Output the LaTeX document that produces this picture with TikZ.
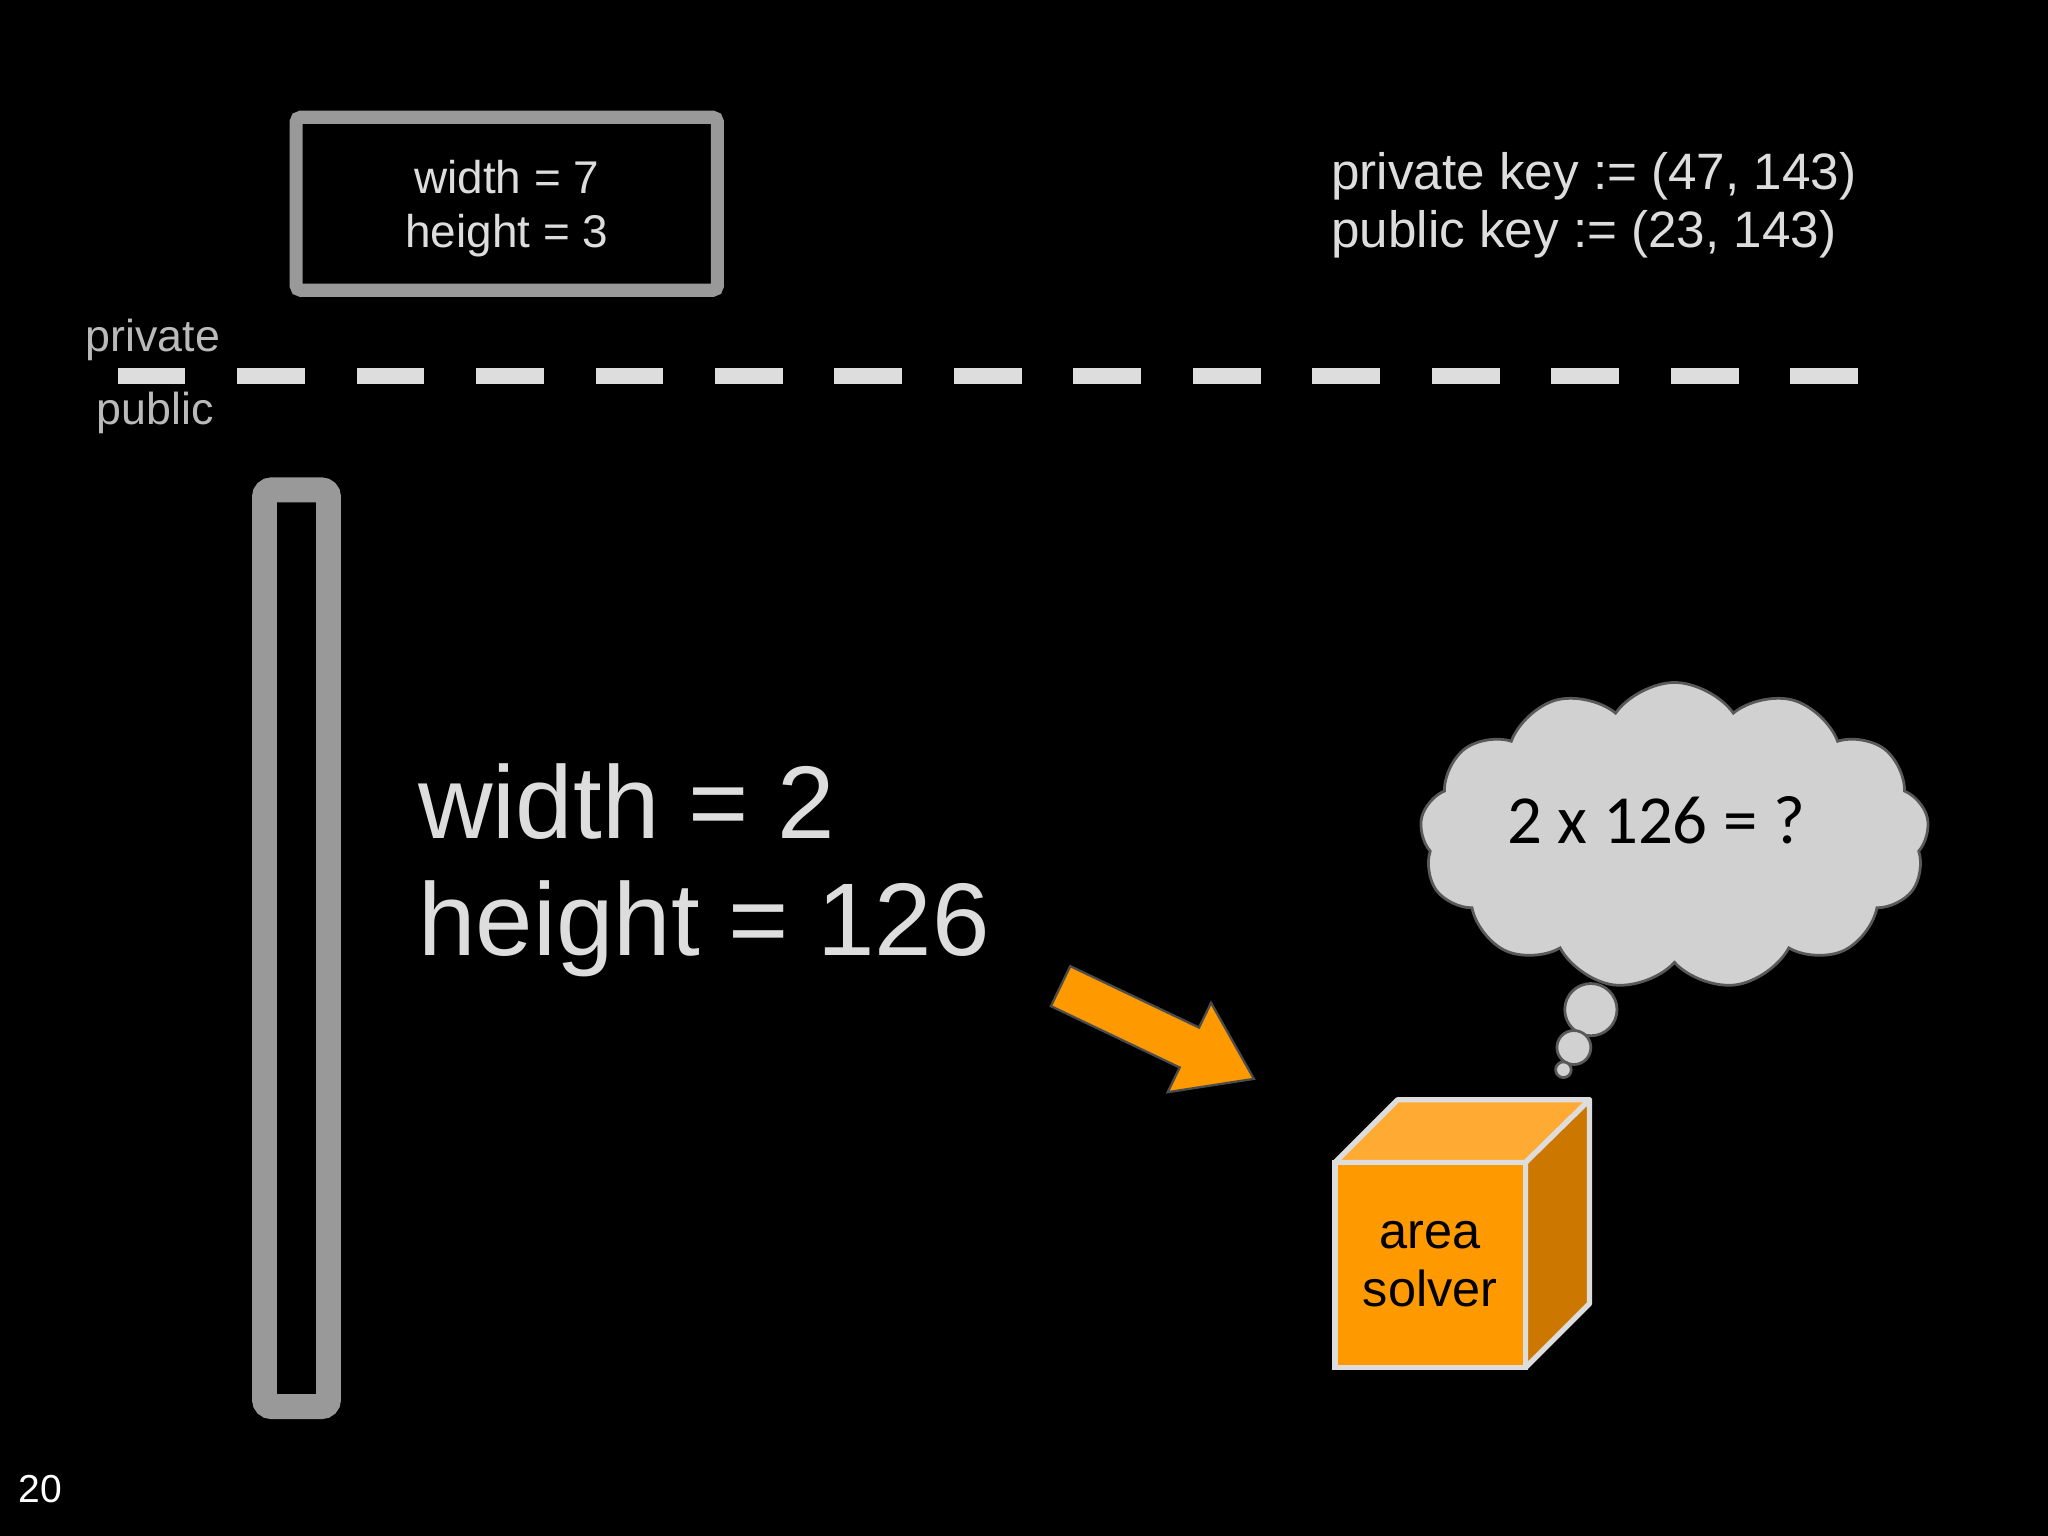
\documentclass[tikz,border=0pt]{standalone}
\usepackage{fontspec}
\setmainfont{Liberation Sans}
\newfontfamily\carl{Carlito}
\usetikzlibrary{shapes.symbols}
\definecolor{txt}{HTML}{DDDDDD}
\definecolor{frame}{HTML}{999999}
\definecolor{org}{HTML}{FF9900}
\definecolor{orgl}{HTML}{FFAA33}
\definecolor{orgd}{HTML}{CC7700}
\tikzset{lbl/.style={text=txt,align=center,inner sep=0pt}}
\begin{document}
\begin{tikzpicture}[x=0.02cm,y=-0.02cm]
\fill[black] (0,0) rectangle (1568,1176);
\useasboundingbox (0,0) rectangle (1568,1176);
% top box
\node[draw=frame,line width=5.7pt,rounded corners=2pt,minimum width=6.45cm,minimum height=2.65cm] (box) at (388,156) {};
\node[lbl,font=\fontsize{20}{23.5}\selectfont] (bt) at (388,160) {width = 7\\height = 3};
% keys
\node[lbl,anchor=west,align=left,font=\fontsize{22.3}{25.5}\selectfont] (keys) at (1019,157) {private key := (47, 143)\\public key := (23, 143)};
% dashed line
\coordinate (d1) at (90,288); \coordinate (d2) at (1424,288);
\draw[txt,line width=7pt,dash pattern=on 1.04cm off 0.79cm] (d1) -- (d2);
\node[lbl,text=black!27,font=\fontsize{19.5}{20}\selectfont] (priv) at (117,260) {private};
\node[lbl,text=black!27,font=\fontsize{19.5}{20}\selectfont] (pub) at (119,316) {public};
% tall rect
\node[draw=frame,line width=10.8pt,rounded corners=3pt,minimum width=0.98cm,minimum height=14.04cm] (tall) at (227,726) {};
% big text
\node[lbl,anchor=west,align=left,font=\fontsize{45}{51}\selectfont] (big) at (320,666) {width = 2\\height = 126};
% arrow
\filldraw[fill=org,draw=black!70,line width=1pt] (804.6,770.3) -- (819.4,739.7) -- (918.0,786.7) -- (927.2,767.8) -- (960,826) -- (894,836.2) -- (903.2,817.3) -- cycle;
% cube
\filldraw[fill=orgl,draw=txt,line width=2.3pt,line join=round] (1022,890) -- (1070,842) -- (1217,842) -- (1168,890) -- cycle;
\filldraw[fill=orgd,draw=txt,line width=2.3pt,line join=round] (1168,890) -- (1217,842) -- (1217,998) -- (1168,1047) -- cycle;
\filldraw[fill=org,draw=txt,line width=2.3pt] (1022,890) rectangle (1168,1047);
\node[lbl,text=black,font=\fontsize{22}{25}\selectfont] (cube) at (1095,968) {area\\solver};
% cloud
\node[cloud,cloud puffs=13,cloud puff arc=110,aspect=1.7,draw=black!65,line width=1.2pt,fill=black!18,minimum width=7.8cm,minimum height=4.7cm] (cloud) at (1282,640) {};
\node[lbl,text=black,font=\carl\fontsize{30}{34}\selectfont] (ct) at (1268,628) {2 x 126 = ?};
\filldraw[fill=black!18,draw=black!65,line width=1.2pt] (1218,773) circle (20);
\filldraw[fill=black!18,draw=black!65,line width=1.2pt] (1205,802) circle (13);
\filldraw[fill=black!18,draw=black!65,line width=1.2pt] (1197,819) circle (6);
\node[lbl,text=white,font=\fontsize{17}{20}\selectfont] (pg) at (31,1140) {20};
\end{tikzpicture}
\end{document}
